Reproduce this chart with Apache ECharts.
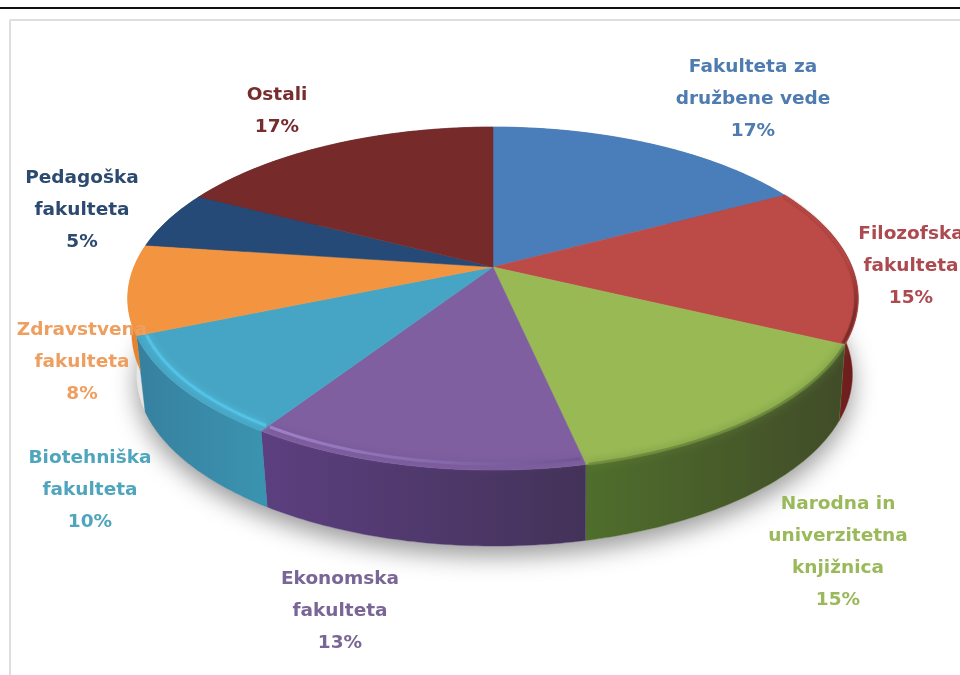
<!DOCTYPE html>
<html>
<head>
<meta charset="utf-8">
<style>html,body{margin:0;padding:0;background:#fff}#c{width:960px;height:675px}</style>
<script src="https://cdn.jsdelivr.net/npm/echarts@6/dist/echarts.min.js"></script>
</head>
<body>
<div id="c"></div>
<script>
const categories = ['Fakulteta za\ndružbene vede','Filozofska\nfakulteta','Narodna in\nuniverzitetna\nknjižnica','Ekonomska\nfakulteta','Biotehniška\nfakulteta','Zdravstvena\nfakulteta','Pedagoška\nfakulteta','Ostali'];
const shares = [17.2,14.9,14.5,12.6,9.5,8.45,5.45,17.4];

const topColors = ['#4a7ebb','#bc4a47','#98b954','#7f5f9f','#46a5c4','#f29440','#254a78','#772a2a'];
const textColors = ['#4f7cb0','#ac4a50','#9ab95a','#7a6597','#4fa5bd','#ee9f60','#2c4a70','#772c2e'];
const wallStops = [
  ['#3a6a9a','#3a6a9a'],['#8a2c2a','#6a1c1c'],['#4f6e2c','#414c28'],['#5c3f80','#433258'],
  ['#37809f','#3a93b0'],['#e0802c','#e88a30'],['#1c3a60','#1c3a60'],['#5a2020','#5a2020']
];
const wallDepths = [1,1,1,1,1,0.45,1,1];
// rim: direction, colours, radius, blur (null = no rim)
const rimStops = [
  null,['v','#bc4a47','#7a2a28',0.994,2],['h','#6f8c3c','#66833a',1.0,8],['h','#a888d4','#6d5290',0.975,8],
  ['h','#55c6ea','#55c6ea',0.975,6],null,null,null
];
const labelSpots = [[753,99],[911,266],[838,552],[340,611],[90,490],[82,362],[82,210],[277,111]];

// Projection of the unit pie onto the page (perspective view from above)
const CX = 493, CY = 267, K = 0.184, A = 359, B = 165.7, DEPTH = 76, WALL_SCALE = 0.98, WALL_SHIFT = 1.5;
function proj(theta, r) {
  const x = Math.sin(theta) * r, y = -Math.cos(theta) * r;
  const d = 1 - K * y;
  return [CX + A * x / d, CY + B * y / d];
}
function lower(p, f) {
  const t = f === undefined ? 1 : f;
  return [CX + WALL_SHIFT * t + (p[0] - CX) * (1 - (1 - WALL_SCALE) * t), p[1] + DEPTH * t];
}
function arc(a0, a1, r) {
  const n = Math.max(4, Math.ceil((a1 - a0) / 0.015)), out = [];
  for (let i = 0; i <= n; i++) out.push(proj(a0 + (a1 - a0) * i / n, r));
  return out;
}
const total = shares.reduce((s, v) => s + v, 0);
function renderItem(params, api) {
  const i = params.dataIndex;
  let before = 0;
  for (let j = 0; j < i; j++) before += shares[j];
  const a0 = before / total * Math.PI * 2;
  const a1 = (before + api.value(0)) / total * Math.PI * 2;
  const outer = arc(a0, a1, 1);
  const children = [];
  const xs = outer.map(p => p[0]), ys = outer.map(p => p[1]);
  const gx0 = Math.min(...xs), gx1 = Math.max(...xs), gy0 = Math.min(...ys), gy1 = Math.max(...ys);
  const grad = (dir, c0, c1) => dir === 'h'
    ? new echarts.graphic.LinearGradient(gx0, 0, gx1, 0, [{offset:0,color:c0},{offset:1,color:c1}], true)
    : new echarts.graphic.LinearGradient(0, gy0, 0, gy1, [{offset:0,color:c0},{offset:0.45,color:c0},{offset:0.8,color:c1},{offset:1,color:c1}], true);
  if (i === 0) {
    children.push({type:'polygon', z2:0, shape:{points:arc(0, Math.PI*2, 1).map(p => lower(p))},
      style:{fill:'#e6e6e6', shadowBlur:24, shadowOffsetY:10, shadowColor:'rgba(0,0,0,0.40)'}});
  }
  const wall = outer.concat(outer.slice().reverse().map(p => lower(p, wallDepths[i])));
  children.push({type:'polygon', z2:2, shape:{points:wall},
    style:{fill:grad('h', wallStops[i][0], wallStops[i][1]), stroke:wallStops[i][0], lineWidth:0.4}});
  children.push({type:'polygon', z2:4, shape:{points:[proj(0,0)].concat(outer)},
    style:{fill:topColors[i], stroke:topColors[i], lineWidth:0.5}});
  const rim = rimStops[i];
  if (rim) {
    children.push({type:'polyline', z2:5, shape:{points:arc(a0+0.006, a1-0.006, rim[3])},
      style:{fill:'none', stroke:grad(rim[0], rim[1], rim[2]), lineWidth:3, shadowBlur:rim[4], shadowColor:rim[2], opacity:0.85}});
  }
  children.push({type:'text', z2:10, x:labelSpots[i][0], y:labelSpots[i][1],
    style:{text:categories[i] + '\n' + Math.round(api.value(0)) + '%', align:'center', verticalAlign:'middle',
      font:'bold 18.5px "DejaVu Sans"', lineHeight:32, fill:textColors[i]}});
  return {type:'group', children};
}
const chart = echarts.init(document.getElementById('c'), null, {renderer:'canvas'});
chart.setOption({
  animation:false,
  backgroundColor:'#ffffff',
  graphic:[
    {type:'line', z:-5, shape:{x1:0,y1:8,x2:960,y2:8}, style:{stroke:'#111',lineWidth:2}},
    {type:'line', z:-5, shape:{x1:10,y1:20,x2:960,y2:20}, style:{stroke:'#dedede',lineWidth:2}},
    {type:'line', z:-5, shape:{x1:10,y1:20,x2:10,y2:675}, style:{stroke:'#dedede',lineWidth:2}}
  ],
  series:[{
    type:'custom', coordinateSystem:'none', silent:true, clip:false,
    renderItem,
    encode:{value:0},
    data:categories.map((c,i)=>({name:c, value:[shares[i]]}))
  }]
});
</script>
</body>
</html>
